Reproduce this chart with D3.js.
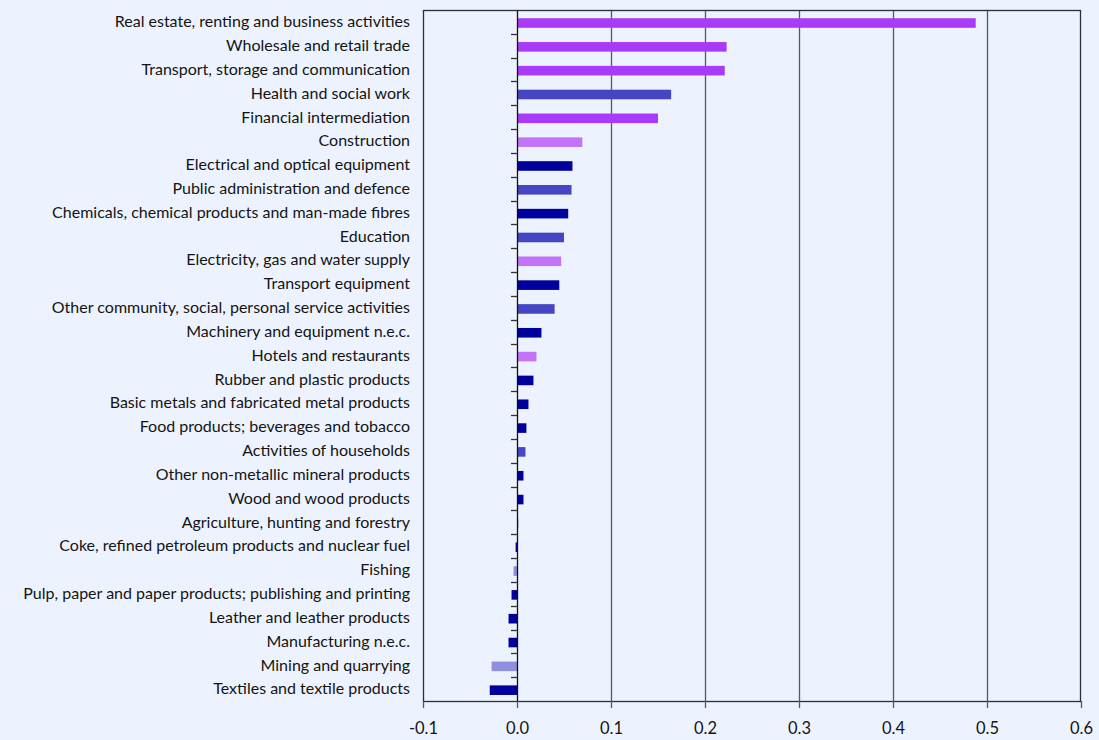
<!DOCTYPE html>
<html><head><meta charset="utf-8">
<script src="https://cdn.jsdelivr.net/npm/d3@7"></script>
<style>
html,body{margin:0;padding:0;background:#EDF3FE;}
svg{display:block;}
</style></head>
<body>
<svg id="chart" width="1099" height="740"></svg>
<script>
const categories = [
 "Real estate, renting and business activities",
 "Wholesale and retail trade",
 "Transport, storage and communication",
 "Health and social work",
 "Financial intermediation",
 "Construction",
 "Electrical and optical equipment",
 "Public administration and defence",
 "Chemicals, chemical products and man-made fibres",
 "Education",
 "Electricity, gas and water supply",
 "Transport equipment",
 "Other community, social, personal service activities",
 "Machinery and equipment n.e.c.",
 "Hotels and restaurants",
 "Rubber and plastic products",
 "Basic metals and fabricated metal products",
 "Food products; beverages and tobacco",
 "Activities of households",
 "Other non-metallic mineral products",
 "Wood and wood products",
 "Agriculture, hunting and forestry",
 "Coke, refined petroleum products and nuclear fuel",
 "Fishing",
 "Pulp, paper and paper products; publishing and printing",
 "Leather and leather products",
 "Manufacturing n.e.c.",
 "Mining and quarrying",
 "Textiles and textile products"
];
const values = [0.488,0.223,0.221,0.164,0.150,0.0695,0.059,0.058,0.0545,0.050,0.047,0.045,0.040,0.026,0.0207,0.0175,0.0122,0.010,0.009,0.0069,0.0069,0.0015,-0.0015,-0.0037,-0.0058,-0.009,-0.009,-0.027,-0.029];
const groups = ["A","A","A","B","A","C","D","B","D","B","C","D","B","D","C","D","D","D","B","D","D","E","D","E","D","D","D","E","D"];
const groupColors = {A:"#A93AF8",B:"#4646C3",C:"#C274F8",D:"#00009C",E:"#8F8FDD"};
const xTicks = [-0.1,0,0.1,0.2,0.3,0.4,0.5,0.6];

const svg = d3.select("#chart");
const m = {left:423, right:1081, top:10, bottom:701};
const x = d3.scaleLinear().domain([-0.1,0.6]).range([m.left, m.right]);
const yb = d3.scaleBand().domain(categories).range([m.top, m.bottom]);

// gridlines
svg.append("g").selectAll("line").data(xTicks.filter(t=>t>0 && t<0.6)).join("line")
  .attr("x1",d=>x(d)+0.5).attr("x2",d=>x(d)+0.5).attr("y1",m.top).attr("y2",m.bottom)
  .attr("stroke","#555a60").attr("stroke-width",1.3);

// bars
svg.append("g").selectAll("rect").data(categories).join("rect")
  .attr("x",(d,i)=>x(Math.min(0,values[i])))
  .attr("width",(d,i)=>Math.abs(x(values[i])-x(0)))
  .attr("y",d=>yb(d)+yb.bandwidth()/2+1.1-4.8)
  .attr("height",9.6)
  .attr("fill",(d,i)=>groupColors[groups[i]]);

// frame
svg.append("rect").attr("x",m.left+0.5).attr("y",m.top+0.5)
  .attr("width",m.right-m.left-1).attr("height",m.bottom-m.top)
  .attr("fill","none").attr("stroke","#2b2f33").attr("stroke-width",1.3);

// zero axis with category ticks
svg.append("line").attr("x1",x(0)+0.5).attr("x2",x(0)+0.5).attr("y1",m.top).attr("y2",m.bottom)
  .attr("stroke","#111").attr("stroke-width",1.3);
svg.append("g").selectAll("line").data(categories.slice(1)).join("line")
  .attr("x1",x(0)-6).attr("x2",x(0)).attr("y1",d=>Math.round(yb(d))+0.5).attr("y2",d=>Math.round(yb(d))+0.5)
  .attr("stroke","#333").attr("stroke-width",1.3);

// category labels
svg.append("g").selectAll("text").data(categories).join("text")
  .attr("x",410).attr("y",d=>yb(d)+yb.bandwidth()/2 - 0.3)
  .attr("dy","0.35em").attr("text-anchor","end")
  .attr("font-family","Lato, 'Open Sans', sans-serif").attr("font-size",16)
  .attr("fill","#141414").text(d=>d);

// x axis
const fmt = d3.format(".1f");
const xAxis = d3.axisBottom(x).tickValues(xTicks).tickSize(7).tickPadding(14)
  .tickFormat(d => fmt(d).replace("\u2212","-"));
const gx = svg.append("g").attr("transform",`translate(0,${m.bottom})`).call(xAxis);
gx.select(".domain").remove();
gx.selectAll(".tick line").attr("stroke","#555a60").attr("stroke-width",1.3);
gx.selectAll(".tick text").attr("font-family","Lato, 'Open Sans', sans-serif").attr("font-size",16.5).attr("fill","#141414");
</script>
</body></html>
